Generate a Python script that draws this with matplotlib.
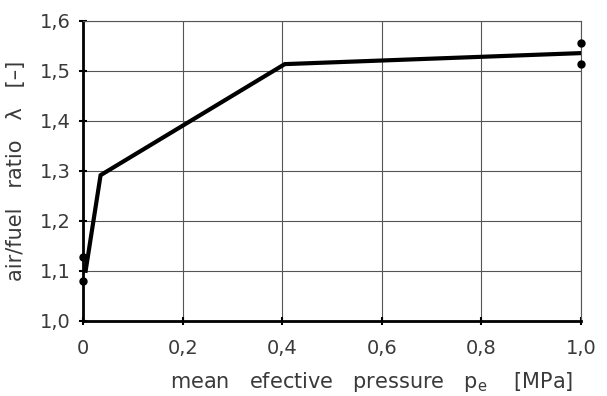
import numpy as np
import matplotlib
matplotlib.use('Agg')
import matplotlib.pyplot as plt
from matplotlib.ticker import FuncFormatter

# data
pe_line = [0.005, 0.035, 0.405, 1.0]
lam_line = [1.10, 1.291, 1.513, 1.535]
pe_dots = [0.0, 0.0, 1.0, 1.0]
lam_dots = [1.127, 1.080, 1.555, 1.513]

x_ticks = [0, 0.2, 0.4, 0.6, 0.8, 1.0]
x_labels = ['0', '0,2', '0,4', '0,6', '0,8', '1,0']
y_ticks = [1.0, 1.1, 1.2, 1.3, 1.4, 1.5, 1.6]

plt.rcParams['font.family'] = ['DejaVu Sans']
plt.rcParams['font.size'] = 14
plt.rcParams['mathtext.default'] = 'regular'

txt = '#3a3a3a'

fig = plt.figure(figsize=(6.07, 3.96), dpi=100)
ax = fig.add_axes([0.137, 0.19, 0.82, 0.758])

ax.plot(pe_line, lam_line, color='black', lw=3, solid_joinstyle='miter', zorder=3)
ax.plot(pe_dots, lam_dots, 'o', color='black', ms=5, zorder=4, clip_on=False)

ax.set_xlim(0, 1.0)
ax.set_ylim(1.0, 1.6)
ax.set_xticks(x_ticks)
ax.set_xticklabels(x_labels)
ax.set_yticks(y_ticks)
ax.yaxis.set_major_formatter(FuncFormatter(lambda v, p: f'{v:.1f}'.replace('.', ',')))

ax.grid(True, color='#555555', lw=0.8)
for s in ['top', 'right']:
    ax.spines[s].set_color('#555555')
    ax.spines[s].set_linewidth(0.8)
for s in ['left', 'bottom']:
    ax.spines[s].set_linewidth(2)
ax.tick_params(direction='inout', length=6, width=1.5, colors='black', labelcolor=txt)
ax.tick_params(axis='x', pad=10)
ax.tick_params(axis='y', pad=6)

ax.set_xlabel('mean   efective   pressure   p$_e$    [MPa]', color=txt, fontsize=15)
ax.xaxis.set_label_coords(0.58, -0.165)
ax.set_ylabel('air/fuel   ratio   λ   [–]', color=txt, fontsize=15)
ax.yaxis.set_label_coords(-0.115, 0.5)

fig.savefig('out.png', dpi=100)
